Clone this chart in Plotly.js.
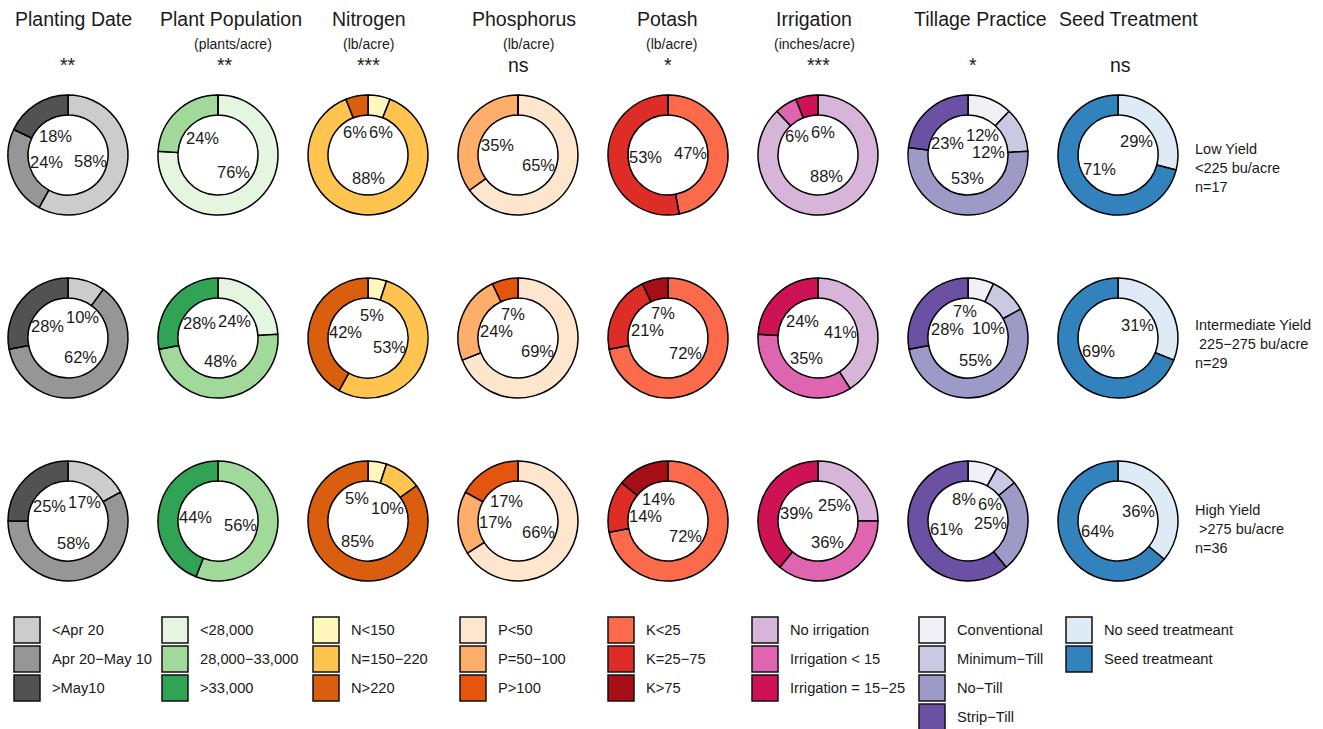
<!DOCTYPE html>
<html>
<head>
<meta charset="utf-8">
<script src="https://cdn.plot.ly/plotly-3.0.1.min.js"></script>
<style>html,body{margin:0;padding:0;background:#fff;}</style>
</head>
<body>
<div id="chart" style="width:1323px;height:729px;"></div>
<script>
// ---------------- DATA ----------------
const variables = ["Planting Date", "Plant Population", "Nitrogen", "Phosphorus", "Potash", "Irrigation", "Tillage Practice", "Seed Treatment"];
const units = ["", "(plants/acre)", "(lb/acre)", "(lb/acre)", "(lb/acre)", "(inches/acre)", "", ""];
const significance = ["**", "**", "***", "ns", "*", "***", "*", "ns"];

const yieldGroups = ["Low Yield", "Intermediate Yield", "High Yield"];
const yieldRanges = ["<225 bu/acre", "\u00a0225\u2212275 bu/acre", "\u00a0>275 bu/acre"];
const yieldN = [17, 29, 36];

const plantingDateCats = ["<Apr 20", "Apr 20\u2212May 10", ">May10"];
const plantPopulationCats = ["<28,000", "28,000\u221233,000", ">33,000"];
const nitrogenCats = ["N<150", "N=150\u2212220", "N>220"];
const phosphorusCats = ["P<50", "P=50\u2212100", "P>100"];
const potashCats = ["K<25", "K=25\u221275", "K>75"];
const irrigationCats = ["No irrigation", "Irrigation < 15", "Irrigation = 15\u221225"];
const tillageCats = ["Conventional", "Minimum\u2212Till", "No\u2212Till", "Strip\u2212Till"];
const seedCats = ["No seed treatmeant", "Seed treatmeant"];

// percentages per yield group (rows: Low, Intermediate, High)
const plantingDate = [[58, 24, 18], [10, 62, 28], [17, 58, 25]];
const plantPopulation = [[76, 24, 0], [24, 48, 28], [0, 56, 44]];
const nitrogen = [[6, 88, 6], [5, 53, 42], [5, 10, 85]];
const phosphorus = [[65, 35, 0], [69, 24, 7], [66, 17, 17]];
const potash = [[47, 53, 0], [72, 21, 7], [72, 14, 14]];
const irrigation = [[88, 6, 6], [41, 35, 24], [25, 36, 39]];
const tillage = [[12, 12, 53, 23], [7, 10, 55, 28], [8, 6, 25, 61]];
const seedTreatment = [[29, 71], [31, 69], [36, 64]];

// ---------------- STYLE ----------------
const plantingDateColors = ["#cccccc", "#969696", "#525252"];
const plantPopulationColors = ["#e5f5e0", "#a1d99b", "#31a354"];
const nitrogenColors = ["#fff7bc", "#fec44f", "#d95f0e"];
const phosphorusColors = ["#fee6ce", "#fdae6b", "#e6550d"];
const potashColors = ["#fb6a4a", "#de2d26", "#a50f15"];
const irrigationColors = ["#d7b5d8", "#df65b0", "#ce1256"];
const tillageColors = ["#f2f0f7", "#cbc9e2", "#9e9ac8", "#6a51a3"];
const seedColors = ["#deebf7", "#3182bd"];

const allCats = [plantingDateCats, plantPopulationCats, nitrogenCats, phosphorusCats, potashCats, irrigationCats, tillageCats, seedCats];
const allVals = [plantingDate, plantPopulation, nitrogen, phosphorus, potash, irrigation, tillage, seedTreatment];
const allColors = [plantingDateColors, plantPopulationColors, nitrogenColors, phosphorusColors, potashColors, irrigationColors, tillageColors, seedColors];

const W = 1323, H = 729;
const FONT = "Liberation Sans, Arial, Helvetica, sans-serif";
const TXT = "#1a1a1a";
const colCenters = variables.map((_, i) => 68 + 150 * i);
const rowCenters = [155, 338, 521];
const RAD = 60, HOLE = 0.667, LABEL_R = 23, PCT_SIZE = 16.5;
const INNER = RAD * HOLE;
const titleShift = [5, 13, 1, 6, 0, -4, 12, 10];
const unitShift = [0, 15, 1, 10, 3, -4, 0, 0];
const sigShift = [0, 7, 1, 0, 0, 0, 5, 2];
const rowLabelOffset = [13, 6, 8];
const legendX = [14, 162, 313, 460, 608, 752, 919, 1066];
const legendY0 = 630, legendStep = 29, SW = 26;

const px = x => x / W;
const py = y => 1 - y / H;

// rough text width estimate (Arial-like metrics) for label collision avoidance
const textW = s => s.split("").reduce((a, ch) => a + (ch === "%" ? 0.889 : 0.556), 0) * PCT_SIZE;

const traces = [];
const annotations = [];
const shapes = [];

variables.forEach((v, c) => {
  const cx = colCenters[c];
  rowCenters.forEach((cy, r) => {
    const vals = allVals[c][r];
    traces.push({
      type: "pie",
      values: vals,
      labels: allCats[c],
      marker: { colors: allColors[c], line: { color: "#000", width: 1.5 } },
      hole: HOLE,
      sort: false,
      direction: "clockwise",
      rotation: 0,
      textinfo: "none",
      hoverinfo: "label+percent",
      showlegend: false,
      domain: { x: [px(cx - RAD), px(cx + RAD)], y: [py(cy + RAD), py(cy - RAD)] }
    });
    // percent labels in the hole, along each slice's bisector, nudged apart when they collide
    const total = vals.reduce((a, b) => a + b, 0);
    let cum = 0;
    const labs = [];
    vals.forEach(val => {
      if (val > 0) {
        const ang = (cum + val / 2) / total * 2 * Math.PI;
        const t = val + "%";
        labs.push({ t, x: LABEL_R * Math.sin(ang), y: -LABEL_R * Math.cos(ang), w: textW(t) + 2, h: 17 });
      }
      cum += val;
    });
    for (let it = 0; it < 120; it++) {
      for (let i = 0; i < labs.length; i++) {
        for (let j = i + 1; j < labs.length; j++) {
          const a = labs[i], b = labs[j];
          const dx = b.x - a.x, dy = b.y - a.y;
          const ox = (a.w + b.w) / 2 - Math.abs(dx);
          const oy = (a.h + b.h) / 2 - Math.abs(dy);
          if (ox > 0 && oy > 0) {
            if (ox < 2 * oy) {
              const s = dx >= 0 ? 1 : -1;
              a.x -= s * ox / 2; b.x += s * ox / 2;
            } else {
              const s = dy >= 0 ? 1 : -1;
              a.y -= s * oy / 2; b.y += s * oy / 2;
            }
          }
        }
      }
      // keep each label box inside the hole
      labs.forEach(l => {
        const hw = l.w / 2 - 3, hh = l.h / 2 - 3;
        const ex = Math.abs(l.x) + hw, ey = Math.abs(l.y) + hh;
        const d = Math.hypot(ex, ey), maxD = INNER - 1;
        if (d > maxD) {
          const k = maxD / d;
          const nx = Math.max(0, ex * k - hw), ny = Math.max(0, ey * k - hh);
          l.x = Math.sign(l.x) * nx; l.y = Math.sign(l.y) * ny;
        }
      });
    }
    labs.forEach(l => {
      annotations.push({
        xref: "paper", yref: "paper",
        x: px(cx + l.x), y: py(cy + l.y),
        text: l.t, showarrow: false,
        xanchor: "center", yanchor: "middle",
        font: { family: FONT, size: PCT_SIZE, color: TXT }
      });
    });
  });
  // column title, units, significance
  annotations.push({ xref: "paper", yref: "paper", x: px(cx + titleShift[c]), y: py(19), text: v, showarrow: false,
    xanchor: "center", yanchor: "middle", font: { family: FONT, size: 19.5, color: TXT } });
  if (units[c]) annotations.push({ xref: "paper", yref: "paper", x: px(cx + unitShift[c]), y: py(44), text: units[c], showarrow: false,
    xanchor: "center", yanchor: "middle", font: { family: FONT, size: 14, color: TXT } });
  annotations.push({ xref: "paper", yref: "paper", x: px(cx + sigShift[c]), y: py(65), text: significance[c], showarrow: false,
    xanchor: "center", yanchor: "middle", font: { family: FONT, size: 19.5, color: TXT } });

  // legend swatches
  allCats[c].forEach((cat, k) => {
    const yc = legendY0 + legendStep * k;
    shapes.push({ type: "rect", xref: "paper", yref: "paper",
      x0: px(legendX[c]), x1: px(legendX[c] + SW), y0: py(yc + SW / 2), y1: py(yc - SW / 2),
      fillcolor: allColors[c][k], line: { color: "#111", width: 1.5 } });
    annotations.push({ xref: "paper", yref: "paper", x: px(legendX[c] + SW + 10), y: py(yc), text: cat, showarrow: false,
      xanchor: "left", yanchor: "middle", font: { family: FONT, size: 14.7, color: TXT } });
  });
});

// row labels
yieldGroups.forEach((g, r) => {
  annotations.push({ xref: "paper", yref: "paper", x: px(1193), y: py(rowCenters[r] + rowLabelOffset[r]),
    text: g + "<br>" + yieldRanges[r] + "<br>n=" + yieldN[r], showarrow: false, align: "left",
    xanchor: "left", yanchor: "middle", font: { family: FONT, size: 14.5, color: TXT } });
});

Plotly.newPlot("chart", traces, {
  width: W, height: H,
  margin: { l: 0, r: 0, t: 0, b: 0 },
  paper_bgcolor: "#fff", plot_bgcolor: "#fff",
  showlegend: false,
  annotations: annotations,
  shapes: shapes,
  font: { family: FONT, color: TXT }
}, { displayModeBar: false, staticPlot: true });
</script>
</body>
</html>
